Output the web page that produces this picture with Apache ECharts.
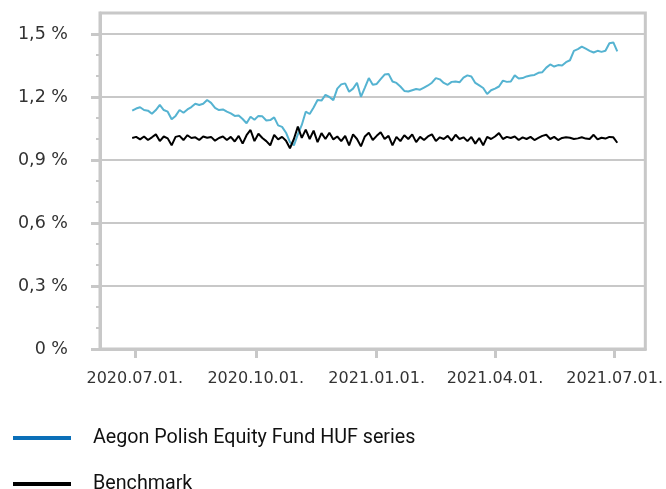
<!DOCTYPE html>
<html><head><meta charset="utf-8">
<script src="https://cdn.jsdelivr.net/npm/echarts@6/dist/echarts.min.js"></script>
<style>html,body{margin:0;padding:0;background:#fff}#c{width:666px;height:489px}</style>
</head><body><div id="c"></div>
<script>
const dates = [
'2020-06-29','2020-07-02','2020-07-05','2020-07-08','2020-07-11','2020-07-14','2020-07-17','2020-07-20','2020-07-23','2020-07-26','2020-07-29',
'2020-08-01','2020-08-04','2020-08-07','2020-08-10','2020-08-13','2020-08-16','2020-08-19','2020-08-22','2020-08-25','2020-08-28','2020-08-31',
'2020-09-03','2020-09-06','2020-09-09','2020-09-12','2020-09-15','2020-09-18','2020-09-21','2020-09-24','2020-09-27','2020-09-30',
'2020-10-03','2020-10-06','2020-10-09','2020-10-12','2020-10-15','2020-10-18','2020-10-21','2020-10-24','2020-10-27','2020-10-30',
'2020-11-02','2020-11-05','2020-11-08','2020-11-11','2020-11-14','2020-11-17','2020-11-20','2020-11-23','2020-11-26','2020-11-29',
'2020-12-02','2020-12-05','2020-12-08','2020-12-11','2020-12-14','2020-12-17','2020-12-20','2020-12-23','2020-12-26','2020-12-29',
'2021-01-01','2021-01-04','2021-01-07','2021-01-10','2021-01-13','2021-01-16','2021-01-19','2021-01-22','2021-01-25','2021-01-28','2021-01-31',
'2021-02-03','2021-02-06','2021-02-09','2021-02-12','2021-02-15','2021-02-18','2021-02-21','2021-02-24','2021-02-27',
'2021-03-02','2021-03-05','2021-03-08','2021-03-11','2021-03-14','2021-03-17','2021-03-20','2021-03-23','2021-03-26','2021-03-29',
'2021-04-01','2021-04-04','2021-04-07','2021-04-10','2021-04-13','2021-04-16','2021-04-19','2021-04-22','2021-04-25','2021-04-28',
'2021-05-01','2021-05-04','2021-05-07','2021-05-10','2021-05-13','2021-05-16','2021-05-19','2021-05-22','2021-05-25','2021-05-28','2021-05-31',
'2021-06-03','2021-06-06','2021-06-09','2021-06-12','2021-06-15','2021-06-18','2021-06-21','2021-06-24','2021-06-27','2021-06-30','2021-07-03'
];
const fundValues = [
1.135,1.145,1.151,1.138,1.135,1.12,1.138,1.162,1.138,1.13,1.094,
1.11,1.138,1.125,1.141,1.152,1.168,1.162,1.168,1.186,1.172,1.148,
1.138,1.141,1.13,1.122,1.11,1.112,1.095,1.075,1.106,1.092,
1.11,1.108,1.088,1.09,1.103,1.065,1.058,1.03,0.985,0.97,
1.022,1.067,1.13,1.119,1.15,1.186,1.183,1.21,1.2,1.185,
1.24,1.26,1.265,1.225,1.24,1.268,1.201,1.245,1.29,1.258,
1.262,1.285,1.307,1.31,1.274,1.267,1.25,1.229,1.226,1.232,1.238,
1.235,1.245,1.255,1.268,1.29,1.284,1.267,1.258,1.272,
1.274,1.27,1.292,1.303,1.298,1.267,1.255,1.243,1.214,1.232,
1.24,1.25,1.278,1.272,1.274,1.303,1.288,1.29,1.298,1.302,
1.305,1.315,1.318,1.34,1.355,1.345,1.352,1.35,1.366,1.375,1.42,
1.428,1.44,1.43,1.42,1.412,1.42,1.415,1.42,1.456,1.46,1.417
];
const benchmarkValues = [
1.005,1.01,0.998,1.012,0.995,1.008,1.022,0.99,1.012,1.003,0.97,
1.01,1.015,0.995,1.018,1.005,1.008,0.995,1.012,1.006,1.01,0.992,
1.005,1.012,0.995,1.01,0.988,1.015,0.978,1.018,1.043,0.99,
1.025,1.005,0.99,0.97,1.02,0.998,1.01,0.992,0.956,1.0,
1.059,1.005,1.045,1.0,1.04,0.985,1.028,1.0,1.03,0.998,
1.012,0.99,1.015,0.97,1.022,1.0,0.965,1.012,1.03,0.995,
1.015,1.032,1.0,1.015,0.97,1.01,0.99,1.018,1.0,1.022,0.985,
1.01,0.995,1.012,1.022,0.99,1.008,1.0,1.015,0.992,
1.02,1.0,1.008,0.99,1.01,0.978,1.005,0.97,1.01,1.0,
1.012,1.028,1.0,1.01,1.005,1.012,0.995,1.008,1.0,1.01,
0.995,1.005,1.015,1.02,1.0,1.01,0.995,1.005,1.008,1.006,1.0,
1.003,1.008,1.002,1.0,1.02,0.998,1.006,1.002,1.01,1.008,0.982
];
const xTickDates = ['2020-07-01','2020-10-01','2021-01-01','2021-04-01','2021-07-01'];
const yTicks = [0, 0.3, 0.6, 0.9, 1.2, 1.5];
const seriesNames = ['Aegon Polish Equity Fund HUF series', 'Benchmark'];

function toTime(s) { const p = s.split('-').map(Number); return Date.UTC(p[0], p[1] - 1, p[2]); }
function pad(n) { return (n < 10 ? '0' : '') + n; }
const GRAY = '#c8c8c8';
const legendText = {fontFamily: 'Roboto', fontSize: 19.7, color: '#111', padding: [0, 0, 0, 17]};
const chart = echarts.init(document.getElementById('c'), null, {renderer: 'canvas'});
chart.setOption({
  animation: false,
  backgroundColor: '#fff',
  grid: {left: 100, right: 8, top: 13, bottom: 140, show: true, borderColor: GRAY, borderWidth: 3, backgroundColor: 'transparent'},
  legend: [
    {left: 8, top: 423, itemWidth: 58, itemHeight: 4, icon: 'rect', textStyle: legendText,
     data: [{name: seriesNames[0], itemStyle: {color: '#0b6fb8'}}]},
    {left: 8, top: 469, itemWidth: 58, itemHeight: 4, icon: 'rect', textStyle: legendText,
     data: [{name: seriesNames[1], itemStyle: {color: '#000'}}]}
  ],
  xAxis: {
    type: 'value',
    min: toTime('2020-06-04') + 12 * 3600e3,
    max: toTime('2021-07-24') + 8 * 3600e3,
    axisLine: {show: true, onZero: false, lineStyle: {color: GRAY, width: 3}},
    axisTick: {show: true, length: 9, lineStyle: {color: GRAY, width: 3}, customValues: xTickDates.map(toTime)},
    axisLabel: {
      customValues: xTickDates.map(toTime), margin: 22, color: '#333',
      fontFamily: '"DejaVu Sans"', fontSize: 16,
      formatter: v => { const d = new Date(v); return d.getUTCFullYear() + '.' + pad(d.getUTCMonth() + 1) + '.' + pad(d.getUTCDate()) + '.'; }
    },
    splitLine: {show: false}
  },
  yAxis: {
    type: 'value', min: 0, max: 1.6, interval: 0.3,
    axisLine: {show: true, lineStyle: {color: GRAY, width: 3}},
    axisTick: {show: true, length: 9, lineStyle: {color: GRAY, width: 3}, customValues: yTicks},
    minorTick: {show: true, splitNumber: 3, length: 4, lineStyle: {color: GRAY, width: 2}},
    axisLabel: {
      margin: 32, color: '#333', fontFamily: '"DejaVu Sans"', fontSize: 17.5,
      customValues: yTicks,
      formatter: v => (v === 0 ? '0' : v.toFixed(1).replace('.', ',')) + ' %'
    },
    splitLine: {show: true, lineStyle: {color: GRAY, width: 2}}
  },
  series: [
    {name: seriesNames[0], type: 'line', showSymbol: false, symbol: 'none',
     data: dates.map((d, i) => [toTime(d), fundValues[i]]),
     lineStyle: {color: '#55b3d1', width: 2}, itemStyle: {color: '#55b3d1'}},
    {name: seriesNames[1], type: 'line', showSymbol: false, symbol: 'none',
     data: dates.map((d, i) => [toTime(d), benchmarkValues[i]]),
     lineStyle: {color: '#000', width: 2}, itemStyle: {color: '#000'}}
  ]
});
</script></body></html>
